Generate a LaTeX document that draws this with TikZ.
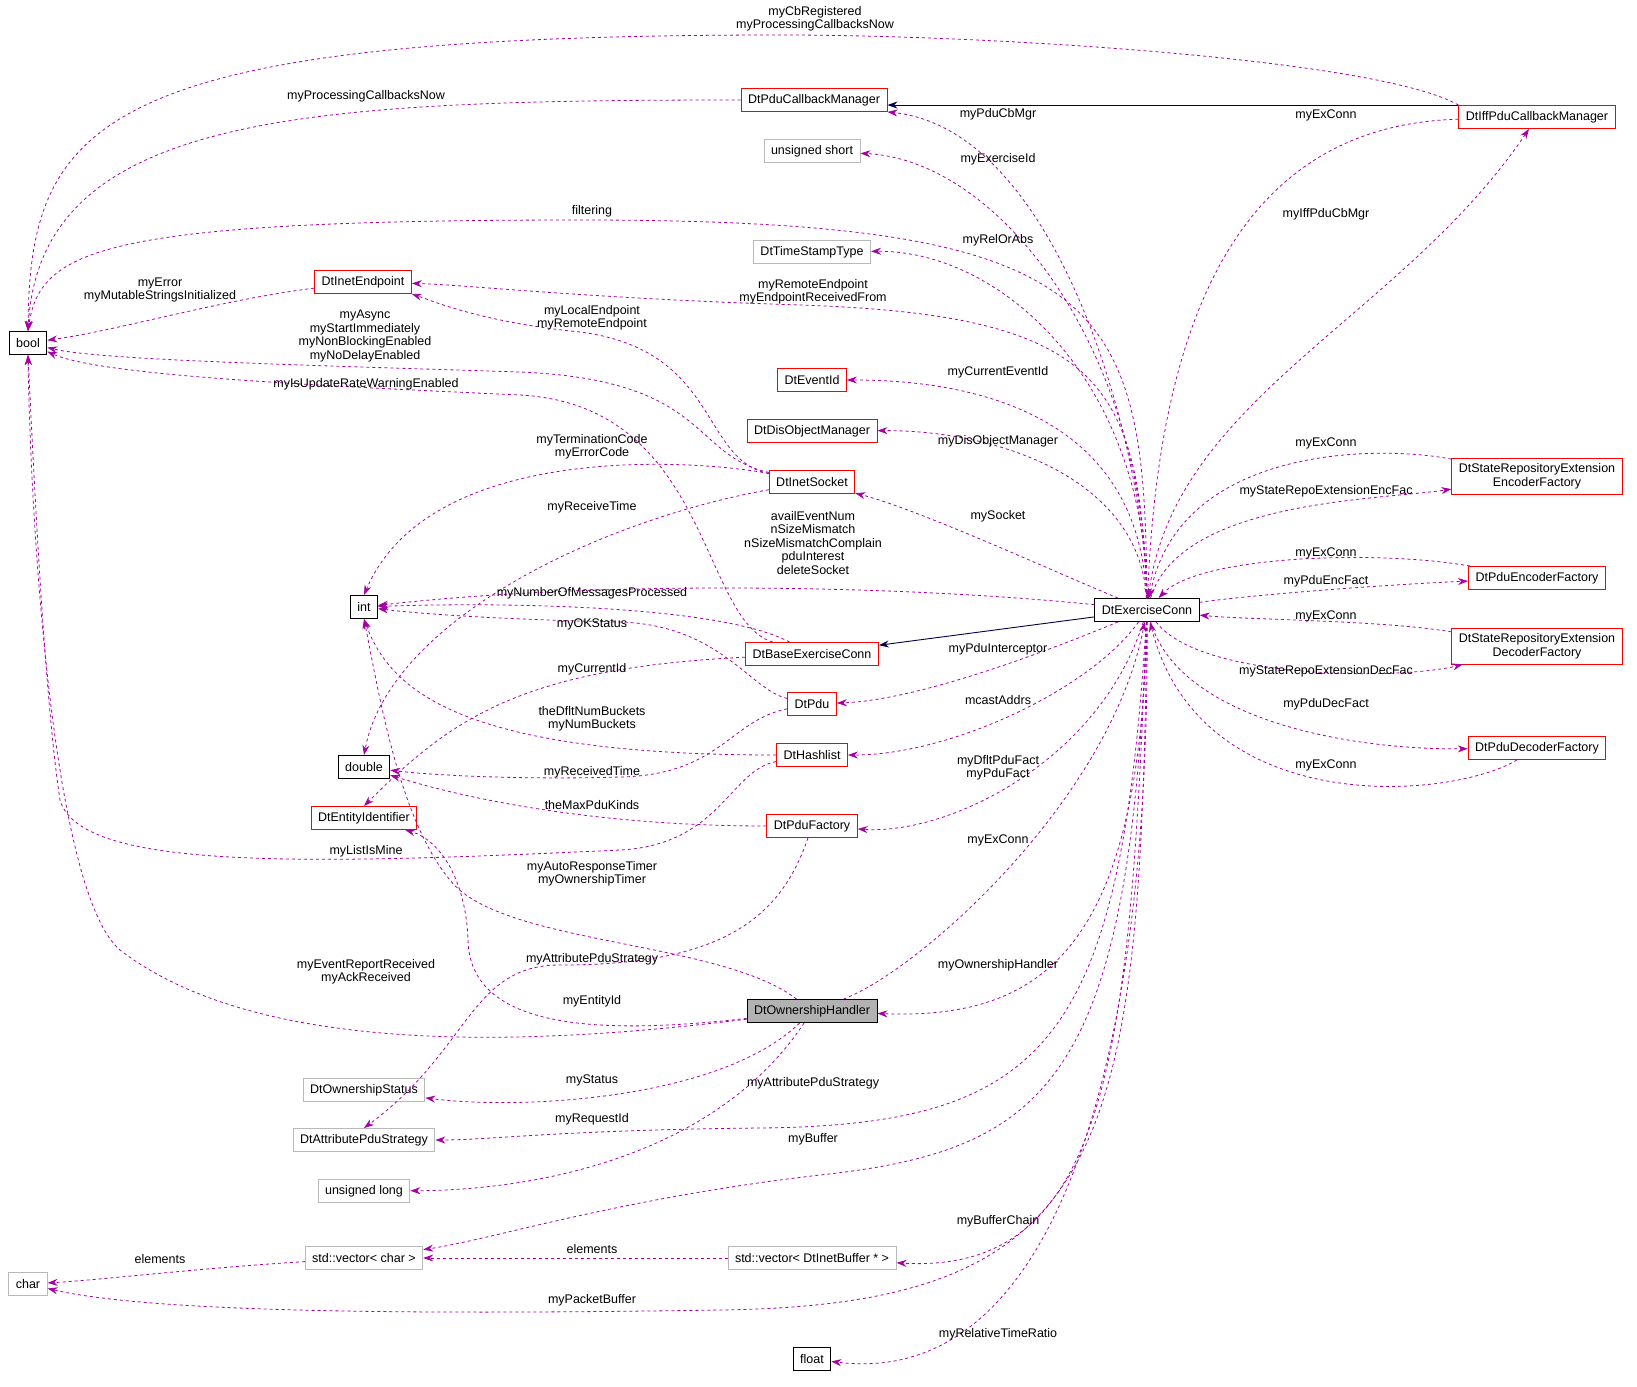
\documentclass[tikz,border=0pt]{standalone}
\usepackage{fontspec}
\setmainfont{Liberation Sans}
\usetikzlibrary{arrows.meta}
\begin{document}
\begin{tikzpicture}[x=1pt,y=-1pt,
  every node/.style={font=\fontsize{12.5}{14}\selectfont},
  box/.style={draw=black,fill=white,inner xsep=7pt,inner ysep=0pt,minimum height=23pt,align=center,line width=0.9pt},
  rbox/.style={box,draw=red},
  gbox/.style={box,draw=gray!55},
  lab/.style={align=center,inner sep=0pt,font=\fontsize{12.5}{13.5}\selectfont},
  dep/.style={draw=violet!70!magenta,dashed,line width=0.8pt,-{Stealth[length=10pt,width=7pt]}},
  inh/.style={draw=blue!30!black,line width=0.9pt,-{Stealth[length=10pt,width=7pt]}}]
\path[use as bounding box,fill=white] (0,0) rectangle (1637,1386);
% nodes
\node[box] (bool) at (28,343) {bool};
\node[rbox] (pcm) at (814,100) {DtPduCallbackManager};
\node[rbox] (iff) at (1537,117) {DtIffPduCallbackManager};
\node[gbox] (ushort) at (812,151) {unsigned short};
\node[gbox] (tst) at (812,252) {DtTimeStampType};
\node[rbox] (iep) at (363,282) {DtInetEndpoint};
\node[rbox] (evid) at (812,380) {DtEventId};
\node[rbox] (dom) at (812,431) {DtDisObjectManager};
\node[rbox] (sock) at (812,482) {DtInetSocket};
\node[rbox,minimum height=36pt,inner ysep=2pt] (sre) at (1537,476) {DtStateRepositoryExtension\\EncoderFactory};
\node[box] (int) at (364,607) {int};
\node[box] (ec) at (1147,610) {DtExerciseConn};
\node[rbox] (pef) at (1537,578) {DtPduEncoderFactory};
\node[rbox,minimum height=36pt,inner ysep=2pt] (srd) at (1537,646) {DtStateRepositoryExtension\\DecoderFactory};
\node[rbox] (bec) at (812,654) {DtBaseExerciseConn};
\node[rbox] (pdu) at (812,704) {DtPdu};
\node[rbox] (hash) at (812,755) {DtHashlist};
\node[rbox] (pdf) at (1537,748) {DtPduDecoderFactory};
\node[box] (double) at (364,767) {double};
\node[rbox] (eid) at (364,818) {DtEntityIdentifier};
\node[rbox] (pf) at (812,826) {DtPduFactory};
\node[box,fill=gray!60] (oh) at (812,1011) {DtOwnershipHandler};
\node[gbox] (status) at (364,1090) {DtOwnershipStatus};
\node[gbox] (attr) at (364,1140) {DtAttributePduStrategy};
\node[gbox] (ulong) at (364,1191) {unsigned long};
\node[gbox] (vchar) at (364,1258) {std::vector< char >};
\node[gbox] (vbuf) at (812,1258) {std::vector< DtInetBuffer * >};
\node[gbox] (char) at (28,1284) {char};
\node[box] (float) at (812,1359) {float};
% inheritance
\draw[inh] (iff.north west) -- (pcm.east|-iff.north west);
\draw[inh] (ec) -- (bec);
% edges
\draw[dep] (iff.north west) .. controls (1380,60) and (1000,35) .. (780,35) .. controls (100,35) and (30,120) .. (bool.north);
\draw[dep] (pcm) .. controls (300,100) and (40,115) .. (bool.north);
\draw[dep] (ec) .. controls (1145,450) and (1060,130) .. (pcm.south east);
\draw[dep] (ec) .. controls (1145,350) and (1000,160) .. (ushort);
\draw[dep] (ec) .. controls (1145,300) and (1110,220) .. (580,220) .. controls (100,220) and (40,250) .. (bool.north);
\draw[dep] (ec) .. controls (1145,380) and (1000,250) .. (tst);
\draw[dep] (iep) .. controls (220,300) and (120,330) .. (bool);
\draw[dep] (ec) .. controls (1140,380) and (1100,315) .. (800,305) .. controls (580,298) and (470,285) .. (iep);
\draw[dep] (sock) .. controls (700,460) and (720,350) .. (580,332) .. controls (480,322) and (430,300) .. (iep.south east);
\draw[dep] (sock) .. controls (690,455) and (710,380) .. (520,372) .. controls (300,365) and (100,360) .. (bool);
\draw[dep] (bec) .. controls (700,620) and (710,405) .. (520,395) .. controls (300,385) and (100,375) .. (bool);
\draw[dep] (ec) .. controls (1140,430) and (1000,380) .. (evid);
\draw[dep] (ec) .. controls (1140,480) and (1000,430) .. (dom);
\draw[dep] (sock) .. controls (700,460) and (430,440) .. (int.north);
\draw[dep] (sock) .. controls (600,520) and (390,620) .. (double.north);
\draw[dep] (ec) .. controls (1050,570) and (920,510) .. (sock);
\draw[dep] (ec) .. controls (900,585) and (600,580) .. (int);
\draw[dep] (bec) .. controls (720,605) and (500,602) .. (int);
\draw[dep] (pdu) .. controls (750,690) and (720,625) .. (620,622) .. controls (520,620) and (430,615) .. (int);
\draw[dep] (bec) .. controls (520,668) and (450,720) .. (eid.north);
\draw[dep] (ec) .. controls (1050,650) and (920,700) .. (pdu);
\draw[dep] (hash) .. controls (460,755) and (390,690) .. (int.south);
\draw[dep] (ec) .. controls (1090,690) and (950,755) .. (hash);
\draw[dep] (pdu) .. controls (730,720) and (720,775) .. (620,777) .. controls (520,780) and (430,775) .. (double);
\draw[dep] (pf) .. controls (600,826) and (470,800) .. (double);
\draw[dep] (hash) .. controls (730,770) and (720,845) .. (620,850) .. controls (300,865) and (80,870) .. (60,800) .. controls (45,700) and (35,500) .. (bool.south);
\draw[dep] (ec) .. controls (1100,760) and (950,835) .. (pf);
\draw[dep] (oh) .. controls (920,970) and (1110,800) .. (ec);
\draw[dep] (oh) .. controls (720,940) and (500,945) .. (450,880) .. controls (400,820) and (380,700) .. (int.south);
\draw[dep] (pf) .. controls (780,920) and (720,965) .. (560,965) .. controls (470,965) and (470,1050) .. (attr.north);
\draw[dep] (oh) .. controls (500,1050) and (250,1050) .. (120,950) .. controls (50,890) and (30,500) .. (bool.south);
\draw[dep] (oh) .. controls (600,1035) and (470,1030) .. (468,940) .. controls (466,880) and (440,840) .. (eid);
\draw[dep] (ec) .. controls (1140,940) and (1050,1020) .. (oh);
\draw[dep] (oh) .. controls (720,1100) and (520,1110) .. (status);
\draw[dep] (ec) .. controls (1120,1040) and (1050,1125) .. (760,1128) .. controls (560,1130) and (490,1140) .. (attr);
\draw[dep] (oh) .. controls (720,1150) and (550,1190) .. (ulong);
\draw[dep] (ec) .. controls (1130,1080) and (1050,1150) .. (820,1175) .. controls (620,1198) and (490,1240) .. (vchar);
\draw[dep] (ec) .. controls (1130,1050) and (1110,1275) .. (vbuf);
\draw[dep] (vbuf) -- (vchar);
\draw[dep] (vchar) .. controls (200,1268) and (100,1280) .. (char);
\draw[dep] (ec) .. controls (1140,1150) and (1110,1305) .. (720,1310) .. controls (400,1315) and (150,1312) .. (char);
\draw[dep] (ec) .. controls (1150,1050) and (1060,1390) .. (float);
\draw[dep] (ec) .. controls (1170,400) and (1400,320) .. (iff);
\draw[dep] (iff) .. controls (1250,125) and (1160,300) .. (ec);
\draw[dep] (sre) .. controls (1380,445) and (1180,445) .. (ec);
\draw[dep] (ec) .. controls (1180,500) and (1380,500) .. (sre);
\draw[dep] (pef) .. controls (1380,550) and (1200,555) .. (ec);
\draw[dep] (ec) .. controls (1250,595) and (1380,585) .. (pef);
\draw[dep] (srd) .. controls (1380,620) and (1250,620) .. (ec);
\draw[dep] (ec) .. controls (1200,680) and (1400,680) .. (srd);
\draw[dep] (pdf) .. controls (1450,800) and (1200,820) .. (ec);
\draw[dep] (ec) .. controls (1180,720) and (1350,750) .. (pdf);
% labels
\node[lab] (l1) at (815,19) {myCbRegistered\\myProcessingCallbacksNow};
\node[lab] (l2) at (366,96) {myProcessingCallbacksNow};
\node[lab] (l3) at (998,114) {myPduCbMgr};
\node[lab] (l4) at (998,159) {myExerciseId};
\node[lab] (l5) at (592,211) {filtering};
\node[lab] (l6) at (998,240) {myRelOrAbs};
\node[lab] (l7) at (160,290) {myError\\myMutableStringsInitialized};
\node[lab] (l8) at (813,292) {myRemoteEndpoint\\myEndpointReceivedFrom};
\node[lab] (l9) at (592,318) {myLocalEndpoint\\myRemoteEndpoint};
\node[lab] (l10) at (365,336) {myAsync\\myStartImmediately\\myNonBlockingEnabled\\myNoDelayEnabled};
\node[lab] (l11) at (366,384) {myIsUpdateRateWarningEnabled};
\node[lab] (l12) at (998,372) {myCurrentEventId};
\node[lab] (l13) at (998,441) {myDisObjectManager};
\node[lab] (l14) at (592,447) {myTerminationCode\\myErrorCode};
\node[lab] (l15) at (592,507) {myReceiveTime};
\node[lab] (l16) at (998,516) {mySocket};
\node[lab] (l17) at (813,543) {availEventNum\\nSizeMismatch\\nSizeMismatchComplain\\pduInterest\\deleteSocket};
\node[lab] (l18) at (592,593) {myNumberOfMessagesProcessed};
\node[lab] (l19) at (592,624) {myOKStatus};
\node[lab] (l20) at (592,669) {myCurrentId};
\node[lab] (l21) at (998,649) {myPduInterceptor};
\node[lab] (l22) at (592,719) {theDfltNumBuckets\\myNumBuckets};
\node[lab] (l23) at (998,700) {mcastAddrs};
\node[lab] (l24) at (592,772) {myReceivedTime};
\node[lab] (l25) at (592,805) {theMaxPduKinds};
\node[lab] (l26) at (366,851) {myListIsMine};
\node[lab] (l27) at (998,768) {myDfltPduFact\\myPduFact};
\node[lab] (l28) at (998,840) {myExConn};
\node[lab] (l29) at (592,874) {myAutoResponseTimer\\myOwnershipTimer};
\node[lab] (l30) at (592,959) {myAttributePduStrategy};
\node[lab] (l31) at (366,972) {myEventReportReceived\\myAckReceived};
\node[lab] (l32) at (592,1001) {myEntityId};
\node[lab] (l33) at (998,965) {myOwnershipHandler};
\node[lab] (l34) at (592,1080) {myStatus};
\node[lab] (l35) at (813,1083) {myAttributePduStrategy};
\node[lab] (l36) at (592,1119) {myRequestId};
\node[lab] (l37) at (813,1139) {myBuffer};
\node[lab] (l38) at (998,1221) {myBufferChain};
\node[lab] (l39) at (592,1249) {elements};
\node[lab] (l40) at (160,1259) {elements};
\node[lab] (l41) at (592,1300) {myPacketBuffer};
\node[lab] (l42) at (998,1334) {myRelativeTimeRatio};
\node[lab] (l43) at (1326,214) {myIffPduCbMgr};
\node[lab] (l44) at (1326,115) {myExConn};
\node[lab] (l45) at (1326,443) {myExConn};
\node[lab] (l46) at (1326,491) {myStateRepoExtensionEncFac};
\node[lab] (l47) at (1326,553) {myExConn};
\node[lab] (l48) at (1326,581) {myPduEncFact};
\node[lab] (l49) at (1326,616) {myExConn};
\node[lab] (l50) at (1326,671) {myStateRepoExtensionDecFac};
\node[lab] (l51) at (1326,704) {myPduDecFact};
\node[lab] (l52) at (1326,765) {myExConn};
\end{tikzpicture}
\end{document}
